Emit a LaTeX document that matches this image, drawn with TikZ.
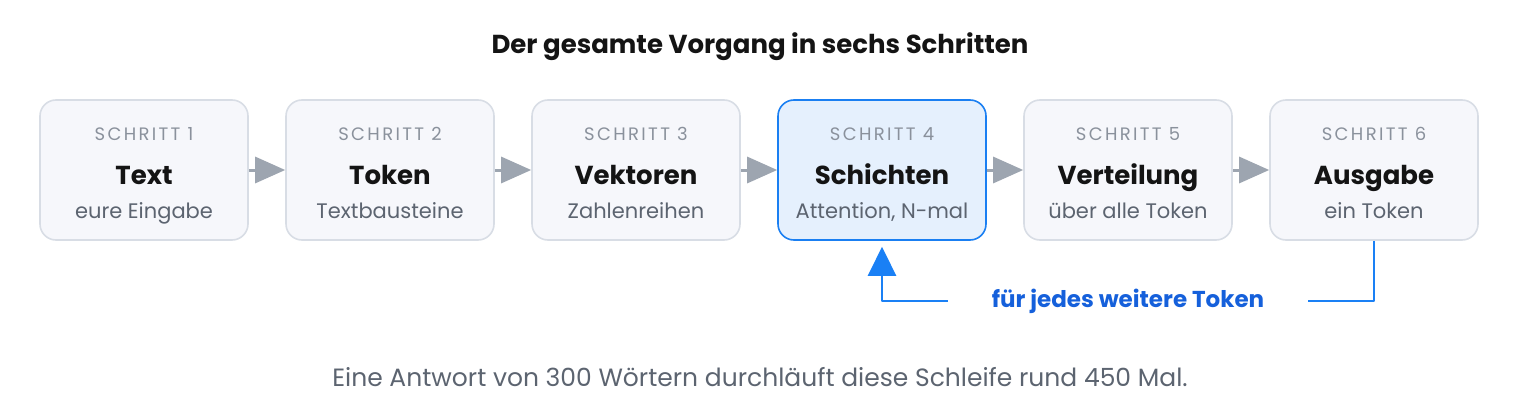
\documentclass[tikz,border=0pt]{standalone}
\usepackage{fontspec}
\setmainfont{Poppins}
\newfontfamily\stepfont[LetterSpace=13]{Poppins}
\usetikzlibrary{arrows.meta, positioning}
\definecolor{boxfill}{HTML}{F6F7FB}
\definecolor{boxdraw}{HTML}{D8DDE5}
\definecolor{activefill}{HTML}{E5F0FD}
\definecolor{activedraw}{HTML}{1A7FF2}
\definecolor{arrowgray}{HTML}{9DA5B0}
\definecolor{stepgray}{HTML}{8A919C}
\definecolor{headblack}{HTML}{141414}
\definecolor{subgray}{HTML}{5C6470}
\definecolor{loopblue}{HTML}{1A80F5}
\definecolor{looptext}{HTML}{1560DB}

\begin{document}
\begin{tikzpicture}[x=1pt, y=-1pt, line cap=round, line join=round,
	stepbox/.style={draw=boxdraw, fill=boxfill, line width=1.6pt, rounded corners=16pt, minimum width=208pt, minimum height=140pt, inner sep=0pt},
	activebox/.style={stepbox, draw=activedraw, fill=activefill},
	steplabel/.style={anchor=base, text=stepgray, font=\stepfont\fontsize{18}{21}\selectfont},
	stephead/.style={anchor=base, text=headblack, font=\fontsize{26}{31}\selectfont\bfseries},
	stepsub/.style={anchor=base, text=subgray, font=\fontsize{21}{25}\selectfont},
	flow/.style={-{Triangle[length=30pt, width=26pt]}, line width=3pt, arrowgray, line cap=butt},
	loopline/.style={line width=2.6pt, loopblue, line cap=butt}]
	\useasboundingbox (0,0) rectangle (1520,420);

	% title
	\node[text=headblack, font=\fontsize{26}{31}\selectfont\bfseries] (title) at (760,47) {Der gesamte Vorgang in sechs Schritten};

	% the six steps
	\node[stepbox] (s1) at (144,170) {};
	\node[stepbox] (s2) at (390,170) {};
	\node[stepbox] (s3) at (636,170) {};
	\node[activebox] (s4) at (882,170) {};
	\node[stepbox] (s5) at (1128,170) {};
	\node[stepbox] (s6) at (1374,170) {};

	\node[steplabel] at (144,140) {SCHRITT 1};
	\node[stephead] at (144,184) {Text};
	\node[stepsub] at (144,218) {eure Eingabe};

	\node[steplabel] at (390,140) {SCHRITT 2};
	\node[stephead] at (390,184) {Token};
	\node[stepsub] at (390,218) {Textbausteine};

	\node[steplabel] at (636,140) {SCHRITT 3};
	\node[stephead] at (636,184) {Vektoren};
	\node[stepsub] at (636,218) {Zahlenreihen};

	\node[steplabel] at (882,140) {SCHRITT 4};
	\node[stephead] at (882,184) {Schichten};
	\node[stepsub] at (882,218) {Attention, N-mal};

	\node[steplabel] at (1128,140) {SCHRITT 5};
	\node[stephead] at (1128,184) {Verteilung};
	\node[stepsub] at (1128,218) {über alle Token};

	\node[steplabel] at (1374,140) {SCHRITT 6};
	\node[stephead] at (1374,184) {Ausgabe};
	\node[stepsub] at (1374,218) {ein Token};

	% arrows between the steps
	\draw[flow] (s1.east) -- (s2.west);
	\draw[flow] (s2.east) -- (s3.west);
	\draw[flow] (s3.east) -- (s4.west);
	\draw[flow] (s4.east) -- (s5.west);
	\draw[flow] (s5.east) -- (s6.west);

	% loop back from step 6 to step 4
	\node[text=looptext, font=\fontsize{23}{27}\selectfont\bfseries, inner xsep=44pt] (again) at (1128,301) {für jedes weitere Token};
	\draw[loopline] (s6.south) |- (again.east);
	\draw[loopline, -{Triangle[length=29pt, width=28pt]}, shorten >=6pt] (again.west) -| (s4.south);

	% footer
	\node[text=subgray, font=\fontsize{25}{30}\selectfont] (note) at (760,377) {Eine Antwort von 300 Wörtern durchläuft diese Schleife rund 450 Mal.};
\end{tikzpicture}
\end{document}
